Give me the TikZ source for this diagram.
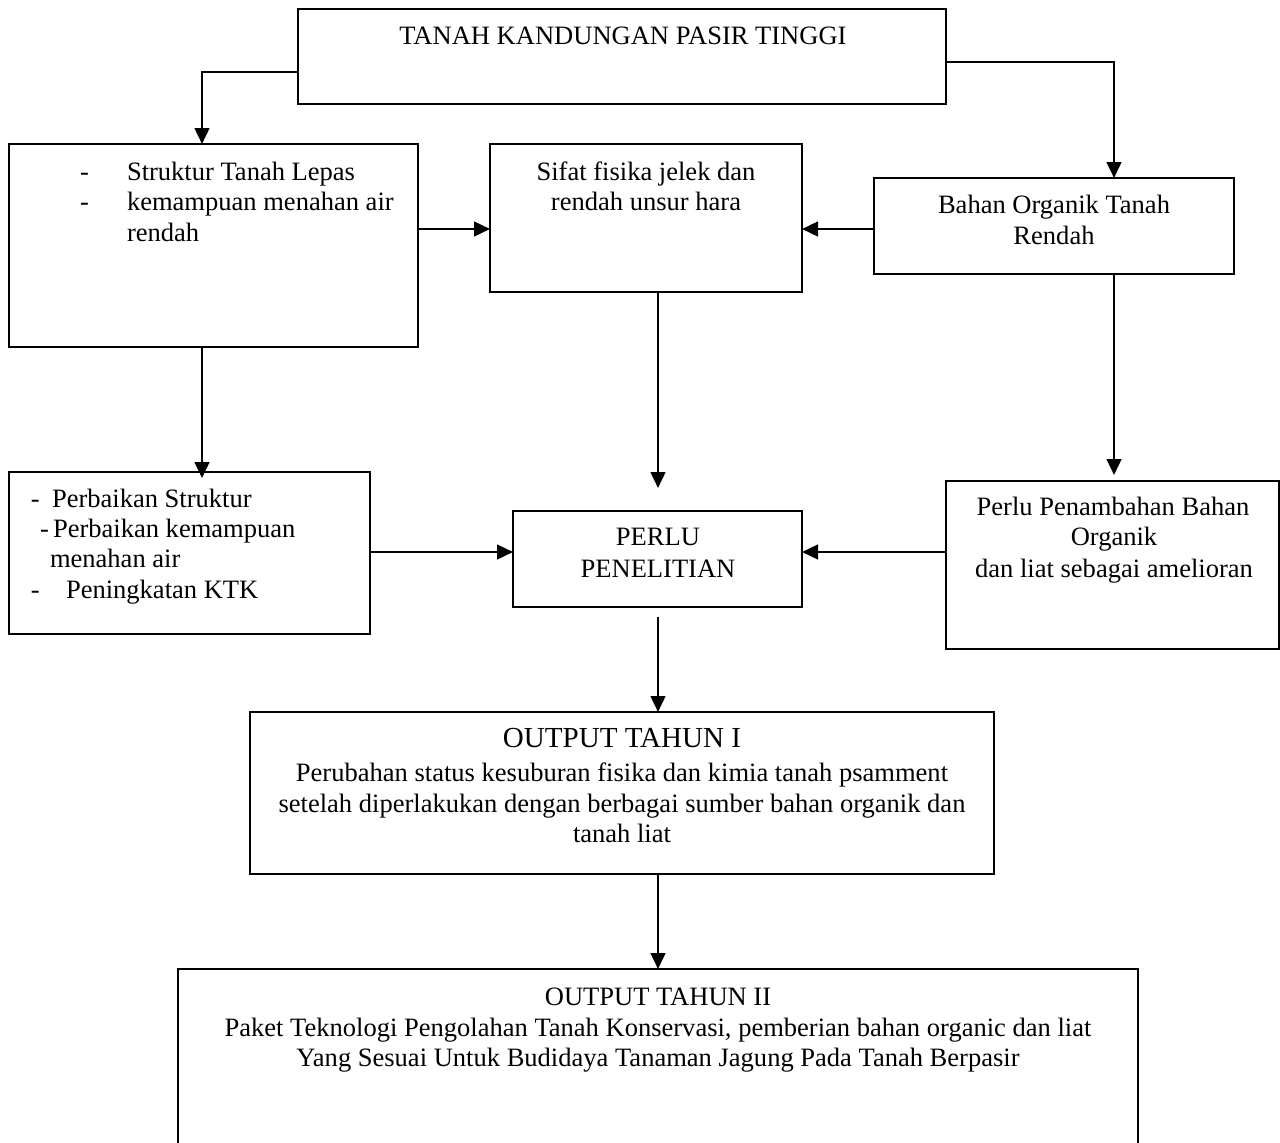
\documentclass[tikz,border=0pt]{standalone}
\usepackage{fontspec}
\setmainfont{Liberation Serif}
\usetikzlibrary{arrows.meta,calc}
\newcommand\bx[5]{\node[box, minimum width={(#4-#2)*0.75pt}, minimum height={(#5-#3)*0.75pt}] (#1) at (#2,#3) {};}
\begin{document}
\begin{tikzpicture}[x=0.75pt,y=-0.75pt,
  box/.style={draw, line width=1.7pt, inner sep=0pt, outer sep=0pt, anchor=north west},
  txt/.style={inner sep=0pt, outer sep=0pt, font=\fontsize{19.9pt}{22.5pt}\selectfont},
  big/.style={inner sep=0pt, outer sep=0pt, font=\fontsize{21.8pt}{25pt}\selectfont},
  arr/.style={line width=1.9pt, -{Triangle[length=12pt,width=11pt]}}]
\useasboundingbox (0,0) rectangle (1280,1142);
\clip (0,0) rectangle (1280,1142);
% boxes
\bx{top}{298}{9}{946}{104}
\bx{lb}{9}{144}{418}{347}
\bx{mb}{490}{144}{802}{292}
\bx{rb}{874}{178}{1234}{274}
\bx{pb}{9}{472}{370}{634}
\bx{pl}{513}{511}{802}{607}
\bx{ppb}{946}{481}{1279}{649}
\bx{oa}{250}{712}{994}{874}
\bx{ob}{178}{969}{1138}{1180}
% texts
\node[txt,anchor=base] (t0) at (623,44) {TANAH KANDUNGAN PASIR TINGGI};
\node[txt,anchor=base west] (d1) at (80,180) {-};
\node[txt,anchor=base west] (t1) at (127,180) {Struktur Tanah Lepas};
\node[txt,anchor=base west] (d2) at (80,210) {-};
\node[txt,anchor=base west] (t2) at (127,210) {kemampuan menahan air};
\node[txt,anchor=base west] (t3) at (127,241) {rendah};
\node[txt,anchor=base] (t4) at (646,180) {Sifat fisika jelek dan};
\node[txt,anchor=base] (t5) at (646,210) {rendah unsur hara};
\node[txt,anchor=base] (t6) at (1054,213) {Bahan Organik Tanah};
\node[txt,anchor=base] (t7) at (1054,244) {Rendah};
\node[txt,anchor=base west] (d3) at (31,507) {-};
\node[txt,anchor=base west] (t8) at (52,507) {Perbaikan Struktur};
\node[txt,anchor=base west] (d4) at (40,537) {-};
\node[txt,anchor=base west] (t9) at (53,537) {Perbaikan kemampuan};
\node[txt,anchor=base west] (t10) at (50,567) {menahan air};
\node[txt,anchor=base west] (d5) at (31,598) {-};
\node[txt,anchor=base west] (t11) at (66,598) {Peningkatan KTK};
\node[txt,anchor=base] (t12) at (658,545) {PERLU};
\node[txt,anchor=base] (t13) at (658,577) {PENELITIAN};
\node[txt,anchor=base] (t14) at (1113,515) {Perlu Penambahan Bahan};
\node[txt,anchor=base] (t15) at (1114,545) {Organik};
\node[txt,anchor=base] (t16) at (1114,577) {dan liat sebagai amelioran};
\node[big,anchor=base] (t17) at (622,747) {OUTPUT TAHUN I};
\node[txt,anchor=base] (t18) at (622,781) {Perubahan status kesuburan fisika dan kimia tanah psamment};
\node[txt,anchor=base] (t19) at (622,812) {setelah diperlakukan dengan berbagai sumber bahan organik dan};
\node[txt,anchor=base] (t20) at (622,842) {tanah liat};
\node[txt,anchor=base] (t21) at (658,1005) {OUTPUT TAHUN II};
\node[txt,anchor=base] (t22) at (658,1036) {Paket Teknologi Pengolahan Tanah Konservasi, pemberian bahan organic dan liat};
\node[txt,anchor=base] (t23) at (658,1066) {Yang Sesuai Untuk Budidaya Tanaman Jagung Pada Tanah Berpasir};
% helper coordinates
\coordinate (xL) at (202,0);
\coordinate (xM) at (658,0);
\coordinate (xR) at (1114,0);
\coordinate (yA) at (0,72);
\coordinate (yB) at (0,62);
\coordinate (yC) at (0,229);
\coordinate (yD) at (0,552);
% connectors
\draw[arr] (top.west |- yA) -| (lb.north -| xL);
\draw[arr] (top.east |- yB) -| (rb.north -| xR);
\draw[arr] (lb.east |- yC) -- (mb.west |- yC);
\draw[arr] (rb.west |- yC) -- (mb.east |- yC);
\draw[arr] (lb.south -| xL) -- ($(pb.north -| xL)+(0,6)$);
\draw[arr] (mb.south -| xM) -- ($(pl.north -| xM)+(0,-23)$);
\draw[arr] (rb.south -| xR) -- ($(ppb.north -| xR)+(0,-6)$);
\draw[arr] (pb.east |- yD) -- (pl.west |- yD);
\draw[arr] (ppb.west |- yD) -- (pl.east |- yD);
\draw[arr] ($(pl.south -| xM)+(0,10)$) -- (oa.north -| xM);
\draw[arr] (oa.south -| xM) -- (ob.north -| xM);
\end{tikzpicture}
\end{document}
